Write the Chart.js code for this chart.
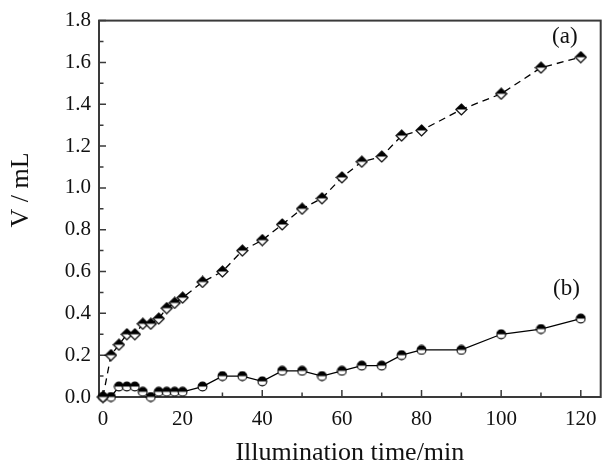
<!DOCTYPE html>
<html>
<head>
<meta charset="utf-8">
<script src="https://cdn.jsdelivr.net/npm/chart.js@4/dist/chart.umd.min.js"></script>
<style>
  html, body { margin: 0; padding: 0; background: #fff; }
  #wrap { width: 608px; height: 471px; }
</style>
</head>
<body>
<div id="wrap"><canvas id="volChart" width="608" height="471"></canvas></div>
<script>
// illumination time (min) and evolved volume (mL)
const timeA = [0, 2, 4, 6, 8, 10, 12, 14, 16, 18, 20, 25, 30, 35, 40, 45, 50, 55, 60, 65, 70, 75, 80, 90, 100, 110, 120];
const volA = [0, 0.2, 0.25, 0.3, 0.3, 0.35, 0.35, 0.375, 0.425, 0.45, 0.475, 0.55, 0.6, 0.7, 0.75, 0.825, 0.9, 0.95, 1.05, 1.125, 1.15, 1.25, 1.275, 1.375, 1.45, 1.575, 1.625];
const timeB = [0, 2, 4, 6, 8, 10, 12, 14, 16, 18, 20, 25, 30, 35, 40, 45, 50, 55, 60, 65, 70, 75, 80, 90, 100, 110, 120];
const volB = [0, 0, 0.05, 0.05, 0.05, 0.025, 0, 0.025, 0.025, 0.025, 0.025, 0.05, 0.1, 0.1, 0.075, 0.125, 0.125, 0.1, 0.125, 0.15, 0.15, 0.2, 0.225, 0.225, 0.3, 0.325, 0.375];

// curve labels and where they sit (data coords)
const curveLabels = ["(a)", "(b)"];
const curveLabelPos = [[116, 1.72], [116.4, 0.515]];

const SERIF = "'Liberation Serif', 'DejaVu Serif', serif";
const FRAME = "#3a3a3a";

// half-filled markers (top half black, bottom half white)
function halfDiamond() {
  const c = document.createElement("canvas");
  c.width = 13; c.height = 13;
  const g = c.getContext("2d");
  g.beginPath();
  g.moveTo(6.5, 1); g.lineTo(12, 6.5); g.lineTo(6.5, 12); g.lineTo(1, 6.5); g.closePath();
  g.fillStyle = "#fff"; g.fill();
  g.beginPath();
  g.moveTo(6.5, 1); g.lineTo(12, 6.5); g.lineTo(1, 6.5); g.closePath();
  g.fillStyle = "#000"; g.fill();
  g.beginPath();
  g.moveTo(6.5, 1); g.lineTo(12, 6.5); g.lineTo(6.5, 12); g.lineTo(1, 6.5); g.closePath();
  g.lineWidth = 1.2; g.strokeStyle = "#000"; g.stroke();
  return c;
}

function halfCircle() {
  const c = document.createElement("canvas");
  c.width = 11; c.height = 11;
  const g = c.getContext("2d");
  g.beginPath(); g.arc(5.5, 5.5, 4.4, 0, Math.PI * 2);
  g.fillStyle = "#fff"; g.fill();
  g.beginPath(); g.arc(5.5, 5.5, 4.4, Math.PI, Math.PI * 2); g.closePath();
  g.fillStyle = "#000"; g.fill();
  g.beginPath(); g.arc(5.5, 5.5, 4.4, 0, Math.PI * 2);
  g.lineWidth = 1.1; g.strokeStyle = "#000"; g.stroke();
  return c;
}

// frame, inward ticks and curve labels
const framePlugin = {
  id: "frame",
  beforeDatasetsDraw(chart) {
    const { ctx, chartArea: a, scales } = chart;
    ctx.save();
    ctx.strokeStyle = FRAME;
    ctx.lineWidth = 2;
    ctx.strokeRect(a.left, a.top, a.right - a.left, a.bottom - a.top);
    ctx.lineWidth = 1.5;
    ctx.beginPath();
    scales.x.ticks.forEach((t) => {
      const px = scales.x.getPixelForValue(t.value);
      const len = t.label !== "" ? 7 : 4.5;
      ctx.moveTo(px, a.bottom); ctx.lineTo(px, a.bottom - len);
    });
    scales.y.ticks.forEach((t) => {
      const py = scales.y.getPixelForValue(t.value);
      const len = t.label !== "" ? 7 : 4.5;
      ctx.moveTo(a.left, py); ctx.lineTo(a.left + len, py);
    });
    ctx.stroke();
    ctx.restore();
  },
  afterDraw(chart) {
    const { ctx, scales } = chart;
    ctx.save();
    ctx.fillStyle = "#111";
    ctx.font = "23px " + SERIF;
    ctx.textAlign = "center";
    ctx.textBaseline = "middle";
    curveLabels.forEach((txt, i) => {
      ctx.fillText(txt, scales.x.getPixelForValue(curveLabelPos[i][0]), scales.y.getPixelForValue(curveLabelPos[i][1]));
    });
    // y axis title, centred a bit above the plot middle as in the figure
    ctx.font = "26px " + SERIF;
    ctx.translate(21, 190);
    ctx.rotate(-Math.PI / 2);
    ctx.fillText("V / mL", 0, 0);
    ctx.restore();
  }
};

new Chart(document.getElementById("volChart"), {
  type: "line",
  data: {
    datasets: [
      {
        label: "(a)",
        data: timeA.map((t, i) => ({ x: t, y: volA[i] })),
        borderColor: "#000",
        borderWidth: 1.3,
        borderDash: [7, 5],
        pointStyle: halfDiamond(),
        pointRadius: 6,
        clip: false,
        tension: 0
      },
      {
        label: "(b)",
        data: timeB.map((t, i) => ({ x: t, y: volB[i] })),
        borderColor: "#000",
        borderWidth: 1.3,
        pointStyle: halfCircle(),
        pointRadius: 5,
        clip: false,
        tension: 0
      }
    ]
  },
  options: {
    responsive: false,
    animation: false,
    layout: { padding: { top: 20, right: 2, left: 0, bottom: 0 } },
    plugins: { legend: { display: false }, tooltip: { enabled: false } },
    scales: {
      x: {
        type: "linear",
        min: -1,
        max: 125,
        afterFit(scale) { scale.height = 74; },
        grid: { drawOnChartArea: false, drawTicks: false },
        border: { display: false },
        ticks: {
          stepSize: 10,
          includeBounds: false,
          autoSkip: false,
          maxRotation: 0,
          padding: 10,
          color: "#111",
          font: { family: SERIF, size: 21 },
          callback: (v) => (v % 20 === 0 ? String(v) : "")
        },
        title: {
          display: true,
          text: "Illumination time/min",
          color: "#111",
          font: { family: SERIF, size: 26 },
          padding: { top: 0, bottom: 2 }
        }
      },
      y: {
        min: 0,
        max: 1.8,
        afterFit(scale) { scale.width = 99; },
        grid: { drawOnChartArea: false, drawTicks: false },
        border: { display: false },
        ticks: {
          stepSize: 0.1,
          autoSkip: false,
          padding: 8,
          color: "#111",
          font: { family: SERIF, size: 21 },
          callback: (v) => (Math.round(v * 10) % 2 === 0 ? v.toFixed(1) : "")
        }
      }
    }
  },
  plugins: [framePlugin]
});
</script>
</body>
</html>
